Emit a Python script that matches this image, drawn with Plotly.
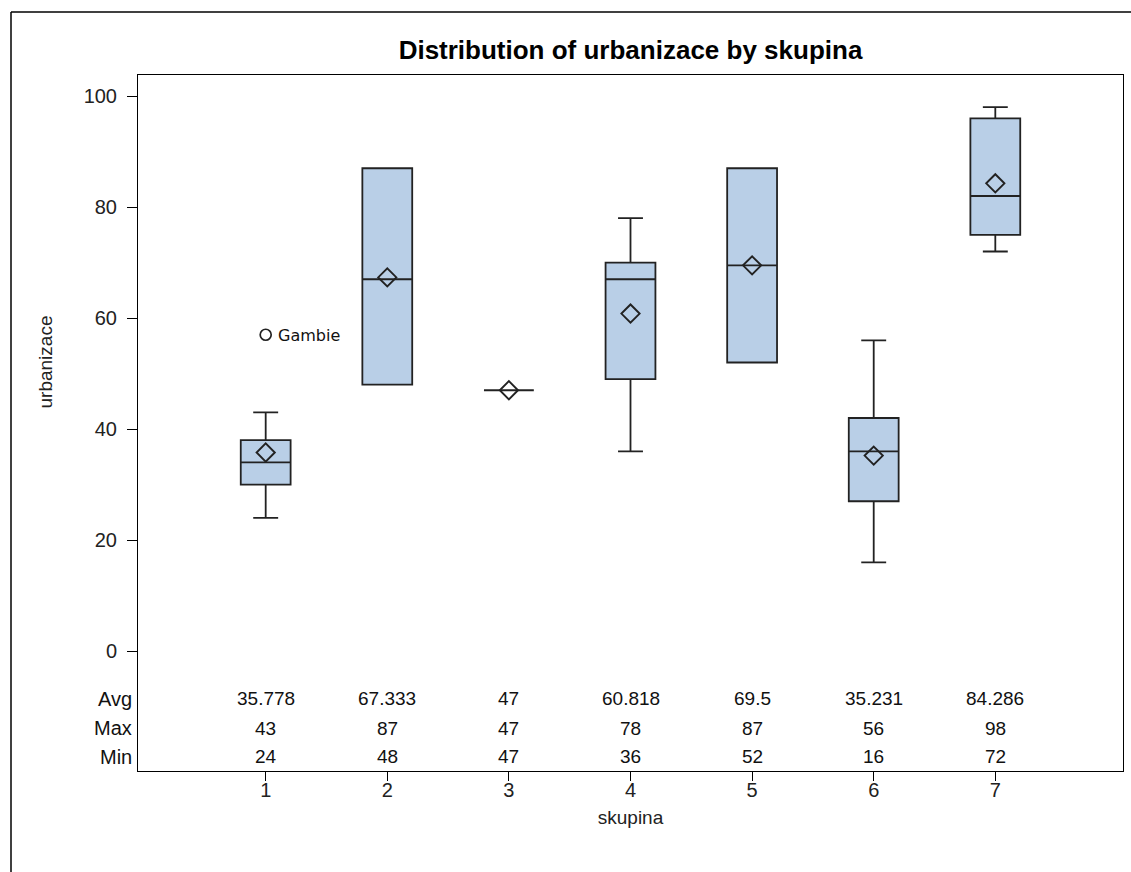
import plotly.graph_objects as go

# Box plot summary of urbanizace for each skupina
groups = [1, 2, 3, 4, 5, 6, 7]
q1 = [30, 48, 47, 49, 52, 27, 75]
median = [34, 67, 47, 67, 69.5, 36, 82]
q3 = [38, 87, 47, 70, 87, 42, 96]
whisker_low = [24, 48, 47, 36, 52, 16, 72]
whisker_high = [43, 87, 47, 78, 87, 56, 98]
avg = [35.778, 67.333, 47, 60.818, 69.5, 35.231, 84.286]
max_val = [43, 87, 47, 78, 87, 56, 98]
min_val = [24, 48, 47, 36, 52, 16, 72]

# Outlying observation
outlier_group = [1]
outlier_value = [57]
outlier_label = ["Gambie"]

y_ticks = [0, 20, 40, 60, 80, 100]
table_rows = ["Avg", "Max", "Min"]
table_y = [-8.6, -13.9, -19.0]

FILL = "#B9CFE7"
LINE = "#222222"
FONT = "Liberation Sans, Arial, sans-serif"

# plot area in pixels
L, R, T, B = 138, 1123, 75, 771
W, H = 1131, 872

fig = go.Figure()

fig.add_trace(go.Box(
    x=groups,
    q1=q1,
    median=median,
    q3=q3,
    lowerfence=whisker_low,
    upperfence=whisker_high,
    width=0.41,
    whiskerwidth=0.5,
    fillcolor=FILL,
    line=dict(color=LINE, width=1.8),
    boxpoints=False,
    hoverinfo="skip",
    showlegend=False,
))

fig.add_trace(go.Scatter(
    x=groups,
    y=avg,
    mode="markers",
    marker=dict(symbol="diamond-open", size=14, color=LINE, line=dict(width=1.9, color=LINE)),
    showlegend=False,
    hoverinfo="skip",
))

fig.add_trace(go.Scatter(
    x=outlier_group,
    y=outlier_value,
    mode="markers",
    marker=dict(symbol="circle-open", size=11, color=LINE, line=dict(width=1.7, color=LINE)),
    showlegend=False,
    hoverinfo="skip",
))

annotations = []
for g, v, lab in zip(outlier_group, outlier_value, outlier_label):
    annotations.append(dict(
        x=g, xref="x", y=v, yref="y", text=lab, showarrow=False,
        xanchor="left", xshift=10, yshift=-1,
        font=dict(family="DejaVu Sans, Verdana, sans-serif", size=16, color="#111"),
    ))

rows = [avg, max_val, min_val]
for label, yv, vals in zip(table_rows, table_y, rows):
    annotations.append(dict(
        x=0, xref="paper", y=yv, yref="y", text=label, showarrow=False,
        xanchor="right", xshift=-4, font=dict(family=FONT, size=20, color="#111"),
    ))
    for g, v in zip(groups, vals):
        annotations.append(dict(
            x=g, xref="x", y=yv, yref="y", text=f"{v:g}", showarrow=False,
            xanchor="center", font=dict(family=FONT, size=19, color="#111"),
        ))

# vertical axis title
annotations.append(dict(
    x=(45 - L) / (R - L), xref="paper", y=52, yref="y", text="urbanizace",
    textangle=-90, showarrow=False, xanchor="center", yanchor="middle",
    font=dict(family=FONT, size=19, color="#222"),
))

fig.update_layout(
    width=W,
    height=H,
    margin=dict(l=L, r=W - R, t=T, b=H - B),
    paper_bgcolor="white",
    plot_bgcolor="white",
    title=dict(
        text="<b>Distribution of urbanizace by skupina</b>",
        x=(L + R) / 2 / W, xanchor="center", y=1 - 50 / H, yanchor="middle",
        font=dict(family=FONT, size=26, color="#000"),
    ),
    xaxis=dict(
        range=[-0.05, 8.05],
        tickvals=groups,
        ticktext=[str(g) for g in groups],
        ticks="outside", ticklen=9, tickwidth=1, tickcolor="#000",
        ticklabelstandoff=-8,
        showgrid=False, zeroline=False,
        showline=True, linecolor="#000", linewidth=1, mirror=True,
        tickfont=dict(family=FONT, size=20, color="#222"),
        title=dict(text="skupina", font=dict(family=FONT, size=19, color="#222"), standoff=10),
    ),
    yaxis=dict(
        range=[-21.6, 103.8],
        tickvals=y_ticks,
        ticks="outside", ticklen=10, tickwidth=1, tickcolor="#000",
        ticklabelstandoff=6,
        showgrid=False, zeroline=False,
        showline=True, linecolor="#000", linewidth=1, mirror=True,
        tickfont=dict(family=FONT, size=20, color="#222"),
    ),
    annotations=annotations,
    shapes=[
        dict(type="line", xref="paper", yref="paper",
             x0=(11 - L) / (R - L), x1=1.05, y0=(B - 12) / (B - T), y1=(B - 12) / (B - T),
             line=dict(color="#000", width=1.5)),
        dict(type="line", xref="paper", yref="paper",
             x0=(11 - L) / (R - L), x1=(11 - L) / (R - L), y0=(B - 12) / (B - T), y1=-0.2,
             line=dict(color="#000", width=1.5)),
    ],
)

fig.write_html("out.html")
